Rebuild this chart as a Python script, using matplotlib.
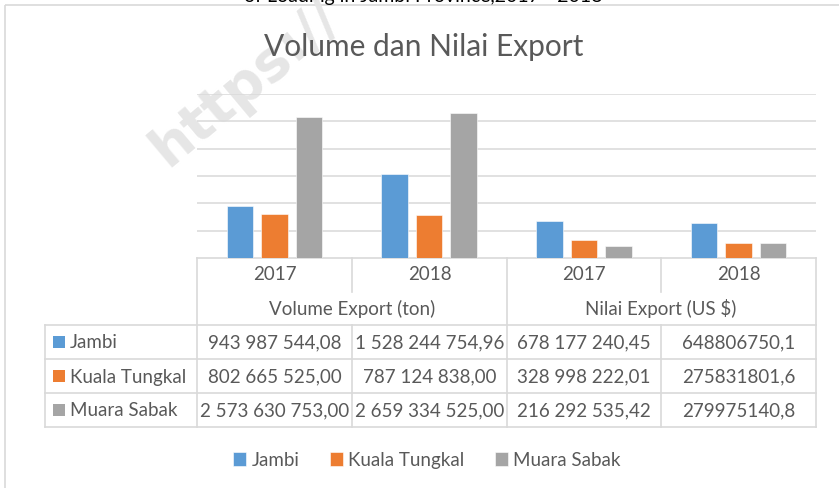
import matplotlib
matplotlib.use("Agg")
import matplotlib.pyplot as plt
from matplotlib.patches import Rectangle

W, H = 839, 489

# ---------- data ----------
groups = ["Volume Export (ton)", "Nilai Export (US $)"]
years = ["2017", "2018", "2017", "2018"]
ports = ["Jambi", "Kuala Tungkal", "Muara Sabak"]
colors = ["#5B9BD5", "#ED7D31", "#A5A5A5"]

jambi = [943987544.08, 1528244754.96, 678177240.45, 648806750.1]
kuala_tungkal = [802665525.00, 787124838.00, 328998222.01, 275831801.6]
muara_sabak = [2573630753.00, 2659334525.00, 216292535.42, 279975140.8]
series = [jambi, kuala_tungkal, muara_sabak]

TXT = "#595959"
LINE = "#d9d9d9"
FONT = "Lato"
FS = 13.5


def fmt(v, col):
    # first three columns: "943 987 544,08", last one raw "648806750,1"
    if col < 3:
        return f"{v:,.2f}".replace(",", " ").replace(".", ",")
    return f"{v:.1f}".replace(".", ",")


def fx(x):
    return x / W


def fy(y):
    return 1 - y / H


fig = plt.figure(figsize=(W / 100, H / 100), dpi=100)
fig.patch.set_facecolor("white")

# overlay in pixel coords for frame, table and texts
ov = fig.add_axes([0, 0, 1, 1], zorder=0)
ov.set_xlim(0, W)
ov.set_ylim(H, 0)
ov.axis("off")

# chart area border (right/bottom edges fall outside the picture)
ov.add_patch(Rectangle((5, 6), 900, 600, fill=False, ec=LINE, lw=1.2))

# clipped caption at the very top (cut off in the source too)
ov.text(423, 2, "of Loading in Jambi Province,2017 - 2018", ha="center",
        va="baseline", fontsize=14, family=FONT, color="black")

# watermark
ov.text(168, 168, "https://", ha="left", va="baseline", rotation=40,
        rotation_mode="anchor", fontsize=40, fontweight="bold",
        color="#e6e6e6", family="DejaVu Sans")

# title
ov.text(423.5, 56, "Volume dan Nilai Export", ha="center", va="baseline",
        fontsize=21.5, family=FONT, color=TXT)

# ---------- bars ----------
L, R, T, B = 197, 816, 95, 259
ax = fig.add_axes([fx(L), fy(B), (R - L) / W, (B - T) / H], zorder=1)
ax.patch.set_alpha(0)
x = list(range(len(years)))
width = 0.17
offsets = [-0.223, 0.0, 0.223]
bars = []
for vals, col, off, name in zip(series, colors, offsets, ports):
    b = ax.bar([i + off for i in x], vals, width, color=col, label=name,
               edgecolor="white", linewidth=0.4, zorder=3)
    bars.append(b)
ax.set_xlim(-0.5, len(years) - 0.5)
ax.set_ylim(0, 3.0e9)
ax.set_yticks([i * 5e8 for i in range(1, 7)])
ax.yaxis.grid(True, color=LINE, lw=1.1)
ax.set_axisbelow(True)
ax.tick_params(left=False, bottom=False, labelleft=False, labelbottom=False)
for s in ax.spines.values():
    s.set_visible(False)

# ---------- data table ----------
cols = [197, 352, 507, 661, 816]
rows = [326, 360, 394, 428]
lw = 1.2
ov.plot([cols[0], cols[-1]], [B, B], color=LINE, lw=lw)
for i, cx in enumerate(cols):
    if i in (1, 3):
        ov.plot([cx, cx], [B, 293], color=LINE, lw=lw)
        ov.plot([cx, cx], [rows[0], rows[-1]], color=LINE, lw=lw)
    else:
        ov.plot([cx, cx], [B, rows[-1]], color=LINE, lw=lw)
ov.plot([45, 45], [rows[0], rows[-1]], color=LINE, lw=lw)
for ry in rows:
    ov.plot([45, cols[-1]], [ry, ry], color=LINE, lw=lw)

for i, yr in enumerate(years):
    ov.text((cols[i] + cols[i + 1]) / 2, 275, yr, ha="center", va="center",
            fontsize=FS, family=FONT, color=TXT)
for g, name in enumerate(groups):
    ov.text(cols[2 * g + 1], 309, name, ha="center", va="center",
            fontsize=FS, family=FONT, color=TXT)

for r, (vals, col, name) in enumerate(zip(series, colors, ports)):
    cy = (rows[r] + rows[r + 1]) / 2
    ov.add_patch(Rectangle((53, cy - 6), 12, 12, color=col, lw=0))
    ov.text(70, cy, name, ha="left", va="center", fontsize=FS, family=FONT,
            color=TXT)
    for c, v in enumerate(vals):
        ov.text((cols[c] + cols[c + 1]) / 2, cy, fmt(v, c), ha="center",
                va="center", fontsize=FS, family=FONT, color=TXT)

# ---------- legend ----------
fig.legend(handles=bars, labels=ports, loc="center",
           bbox_to_anchor=(fx(427), fy(461)), ncol=3, frameon=False,
           prop={"family": FONT, "size": FS}, labelcolor=TXT,
           handlelength=0.7, handleheight=0.7, handletextpad=0.3,
           columnspacing=1.6)

fig.savefig("out.png", dpi=100)
